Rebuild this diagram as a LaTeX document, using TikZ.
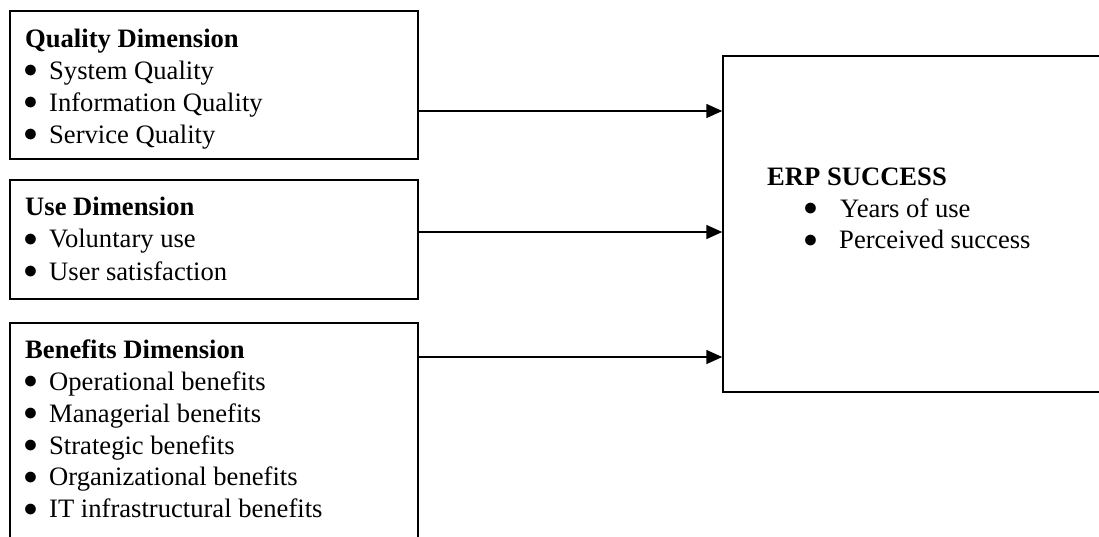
\documentclass[tikz,border=0pt]{standalone}
\usepackage{fontspec}
\setmainfont{Liberation Serif}
\usetikzlibrary{arrows.meta}
\newcommand{\bul}{\raisebox{1.5pt}{\scalebox{1.12}{$\bullet$}}}
\begin{document}
\begin{tikzpicture}[x=1pt,y=-1pt,
  box/.style={draw=black,line width=1.5pt,rectangle,inner sep=0pt},
  txt/.style={anchor=base west,inner sep=0pt,font=\fontsize{26.6}{32}\selectfont},
  head/.style={txt,font=\fontsize{26.6}{32}\selectfont\bfseries},
  arr/.style={line width=1.6pt,-{Triangle[length=16pt,width=14pt]}}]
\useasboundingbox (0,0) rectangle (1099,536);
\clip (0,0) rectangle (1099,536);
\fill[white] (0,0) rectangle (1099,536);
% boxes
\node[box,minimum width=408pt,minimum height=148pt] (q) at (214,85) {};
\node[box,minimum width=408pt,minimum height=119pt] (u) at (214,239.5) {};
\node[box,minimum width=408pt,minimum height=237pt] (b) at (214,441.5) {};
\node[box,minimum width=397pt,minimum height=336pt] (erp) at (921.5,224) {};
% quality
\node[head] (qh) at (25,47) {Quality Dimension};
\node[txt] (qb1) at (23.5,79) {\bul};
\node[txt] (qt1) at (49,79) {System Quality};
\node[txt] (qb2) at (23.5,111) {\bul};
\node[txt] (qt2) at (49,111) {Information Quality};
\node[txt] (qb3) at (23.5,143) {\bul};
\node[txt] (qt3) at (49,143) {Service Quality};
% use
\node[head] (uh) at (25,215) {Use Dimension};
\node[txt] (ub1) at (23.5,247.5) {\bul};
\node[txt] (ut1) at (49,247.5) {Voluntary use};
\node[txt] (ub2) at (23.5,280) {\bul};
\node[txt] (ut2) at (49,280) {User satisfaction};
% benefits
\node[head] (bh) at (25,358) {Benefits Dimension};
\node[txt] (bb1) at (23.5,390) {\bul};
\node[txt] (bt1) at (49,390) {Operational benefits};
\node[txt] (bb2) at (23.5,422) {\bul};
\node[txt] (bt2) at (49,422) {Managerial benefits};
\node[txt] (bb3) at (23.5,454) {\bul};
\node[txt] (bt3) at (49,454) {Strategic benefits};
\node[txt] (bb4) at (23.5,485.5) {\bul};
\node[txt] (bt4) at (49,485.5) {Organizational benefits};
\node[txt] (bb5) at (23.5,517.5) {\bul};
\node[txt] (bt5) at (49,517.5) {IT infrastructural benefits};
% erp
\node[head] (eh) at (767,185.5) {ERP SUCCESS};
\node[txt] (eb1) at (803.5,217) {\bul};
\node[txt] (et1) at (840,217) {Years of use};
\node[txt] (eb2) at (803.5,248.5) {\bul};
\node[txt] (et2) at (839,248.5) {Perceived success};
% arrows
\coordinate (a1) at (0,111);
\coordinate (a2) at (0,232);
\coordinate (a3) at (0,357);
\draw[arr] (q.east |- a1) -- (erp.west |- a1);
\draw[arr] (u.east |- a2) -- (erp.west |- a2);
\draw[arr] (b.east |- a3) -- (erp.west |- a3);
\end{tikzpicture}
\end{document}
